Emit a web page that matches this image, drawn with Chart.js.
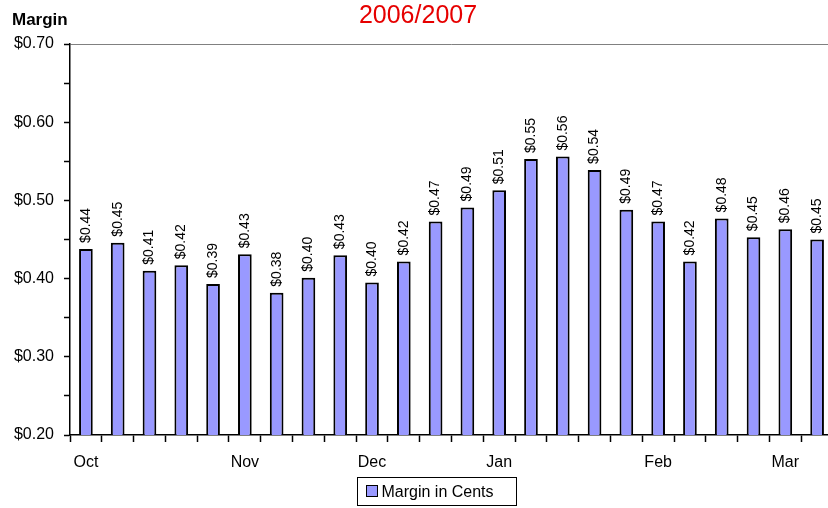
<!DOCTYPE html>
<html>
<head>
<meta charset="utf-8">
<script src="https://cdn.jsdelivr.net/npm/chart.js@4.4.1/dist/chart.umd.min.js"></script>
<style>
  html, body { margin: 0; padding: 0; background: #fff; overflow: hidden; }
  #wrap { width: 836px; height: 508px; position: relative; }
</style>
</head>
<body>
<div id="wrap"><canvas id="c" width="836" height="508"></canvas></div>
<script>
// ---- data ----
const weeks = ['W1','W2','W3','W4','W5','W6','W7','W8','W9','W10','W11','W12',
               'W13','W14','W15','W16','W17','W18','W19','W20','W21','W22','W23','W24'];
const tickLabels = ['Oct','','','','','Nov','','','','Dec','','','','Jan','','','','','Feb','','','','Mar',''];
const marginValues = [0.438,0.446,0.410,0.417,0.393,0.431,0.382,0.401,0.430,0.395,0.422,0.473,
                      0.491,0.513,0.553,0.556,0.539,0.488,0.473,0.422,0.477,0.453,0.463,0.450];
const seriesName = 'Margin in Cents';
const chartTitle = '2006/2007';
const axisTitle = 'Margin';

const FONT = '"Liberation Sans", Arial, sans-serif';

const labelsPlugin = {
  id: 'barLabels',
  afterDatasetsDraw(chart) {
    const ctx = chart.ctx;
    const meta = chart.getDatasetMeta(0);
    const data = chart.data.datasets[0].data;
    ctx.save();
    ctx.fillStyle = '#000';
    ctx.font = '14px ' + FONT;
    ctx.textAlign = 'left';
    ctx.textBaseline = 'middle';
    meta.data.forEach((el, i) => {
      ctx.save();
      ctx.translate(el.x, el.y - 6);
      ctx.rotate(-Math.PI / 2);
      ctx.fillText('$' + data[i].toFixed(2), 0, 0);
      ctx.restore();
    });
    ctx.restore();
  }
};

const decorPlugin = {
  id: 'decor',
  beforeDraw(chart) {
    const ctx = chart.ctx;
    ctx.save();
    ctx.fillStyle = '#fff';
    ctx.fillRect(0, 0, chart.width, chart.height);
    ctx.restore();
  },
  afterDraw(chart) {
    const ctx = chart.ctx;
    ctx.save();
    // axis title
    ctx.fillStyle = '#000';
    ctx.font = 'bold 17px ' + FONT;
    ctx.textAlign = 'left';
    ctx.textBaseline = 'alphabetic';
    ctx.fillText(axisTitle, 12, 25);
    // chart title
    ctx.fillStyle = '#E60000';
    ctx.font = '25px ' + FONT;
    ctx.textAlign = 'center';
    ctx.fillText(chartTitle, 418, 23);
    // legend
    const bx = 357.5, by = 477.5, bw = 159, bh = 28;
    ctx.strokeStyle = '#000';
    ctx.lineWidth = 1;
    ctx.fillStyle = '#fff';
    ctx.fillRect(bx, by, bw, bh);
    ctx.strokeRect(bx, by, bw, bh);
    ctx.fillStyle = '#9999FF';
    ctx.fillRect(bx + 9, by + 8, 11, 11);
    ctx.strokeRect(bx + 9, by + 8, 11, 11);
    ctx.fillStyle = '#000';
    ctx.font = '16px ' + FONT;
    ctx.textAlign = 'left';
    ctx.textBaseline = 'middle';
    ctx.fillText(seriesName, bx + 24, by + bh / 2 + 1);
    ctx.restore();
  }
};

new Chart(document.getElementById('c'), {
  type: 'bar',
  data: {
    labels: weeks,
    datasets: [{
      label: seriesName,
      data: marginValues,
      backgroundColor: '#9999FF',
      borderColor: '#000',
      borderWidth: 2,
      borderSkipped: 'bottom',
      barPercentage: 0.43,
      categoryPercentage: 1.0
    }]
  },
  options: {
    responsive: false,
    animation: false,
    devicePixelRatio: 1,
    layout: { padding: { left: 0, right: 3, top: 44, bottom: 0 } },
    plugins: { legend: { display: false }, title: { display: false }, tooltip: { enabled: false } },
    scales: {
      x: {
        offset: true,
        afterFit(s) { s.height = 73; },
        border: { display: true, color: '#000', width: 1.5 },
        grid: { display: true, offset: true, drawOnChartArea: false, tickColor: '#000', tickLength: 7, tickWidth: 1.5 },
        ticks: {
          autoSkip: false, maxRotation: 0, minRotation: 0, padding: 11,
          color: '#000', font: { family: FONT, size: 16 },
          callback: (v, i) => tickLabels[i]
        }
      },
      y: {
        min: 0.2, max: 0.7,
        afterFit(s) { s.width = 70; },
        border: { display: true, color: '#000', width: 1.5 },
        grid: {
          display: true,
          drawOnChartArea: true,
          color: (c) => (c.tick && Math.abs(c.tick.value - 0.7) < 1e-6) ? '#808080' : 'rgba(0,0,0,0)',
          tickColor: '#000', tickLength: 6, tickWidth: 1.5
        },
        ticks: {
          stepSize: 0.05, padding: 10, color: '#000',
          font: { family: FONT, size: 16 },
          callback: (v) => (Math.round(v * 100) % 10 === 0) ? '$' + v.toFixed(2) : ''
        }
      }
    }
  },
  plugins: [labelsPlugin, decorPlugin]
});
</script>
</body>
</html>
